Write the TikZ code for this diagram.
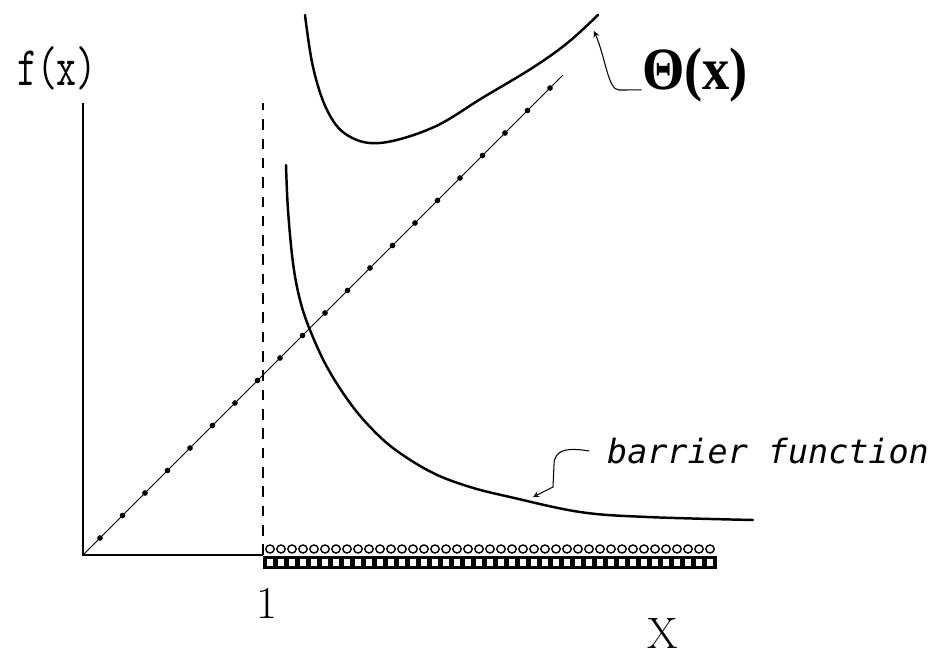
\documentclass[tikz,border=0pt]{standalone}
\usepackage{graphicx}
\usepackage{fontspec}
\newfontfamily\notefont{DejaVu Sans Mono}
\newfontfamily\thetafont{Liberation Serif}

\begin{document}
\begin{tikzpicture}[>=stealth,
    axis/.style={line width=1.1pt},
    curve/.style={line width=1.4pt, line cap=round},
    diag/.style={line width=0.5pt},
    dotmark/.style={fill, circle, inner sep=0pt, minimum size=3.2pt},
    lbl/.style={inner sep=0pt}]
    \useasboundingbox (-1.66,-2.06) rectangle (16.98,11.10);

    % axes and the line x = 1
    \coordinate (origin) at (0,0);
    \coordinate (ytop) at (0,9.04);
    \coordinate (xone) at (3.6,0);
    \coordinate (dashtop) at (3.6,9.04);
    \draw[axis] (ytop) -- (origin) -- (xone);
    \draw[axis, dash pattern=on 6pt off 5pt] (xone) -- (dashtop);

    % shaded band x > 1
    \fill (3.6,-0.28) rectangle (12.68,-0.02);
    \foreach \i in {0,...,40} {
        \fill[white] (3.68+0.22*\i,-0.22) rectangle (3.80+0.22*\i,-0.08);
        \draw[line width=0.8pt] (3.74+0.22*\i,0.12) ellipse (0.085 and 0.08);
    }

    % diagonal line with marks
    \coordinate (diagend) at (9.6,9.6);
    \draw[diag] (origin) -- (diagend);
    \foreach \k in {0,...,20}
        \node[dotmark] at (0.34+0.45*\k,0.34+0.45*\k) {};

    % upper curve Theta(x)
    \draw[curve] plot[smooth, tension=0.6] coordinates {
        (4.44,10.8) (4.60,9.76) (4.88,8.90) (5.28,8.40) (5.94,8.24)
        (7.0,8.55) (8.0,9.15) (9.0,9.75) (9.7,10.25) (10.3,10.8)};

    % barrier function
    \draw[curve] plot[smooth, tension=0.6] coordinates {
        (4.06,7.80) (4.10,6.90) (4.20,5.84) (4.34,5.10) (4.54,4.50)
        (4.88,3.76) (5.34,3.04) (5.80,2.50) (6.28,2.08) (7.00,1.64)
        (7.74,1.36) (8.54,1.16) (9.94,0.86) (11.28,0.76) (13.40,0.70)};

    % labels
    \node[lbl, font=\ttfamily\fontsize{22}{22}\selectfont] (fx) at (-0.52,9.74) {\scalebox{1}[1.45]{f(x)}};
    \node[lbl, font=\thetafont\bfseries\fontsize{31}{31}\selectfont] (theta) at (12.24,9.6) {\scalebox{1}[1.1]{Θ(x)}};
    \node[lbl, font=\fontsize{26}{26}\selectfont] (one) at (3.68,-0.96) {1};
    \node[lbl, font=\fontsize{25}{25}\selectfont] (xlab) at (11.6,-1.56) {X};
    \node[lbl, font=\notefont\itshape\fontsize{19}{19}\selectfont] (barrier) at (13.70,2.08) {barrier function};

    % pointers
    \coordinate (thetatip) at (10.22,10.48);
    \draw[->, semithick] ([yshift=-8.5pt]theta.west) -- (10.72,9.3)
        .. controls (10.5,9.3) and (10.45,9.95) .. (thetatip);
    \coordinate (barriertip) at (9.0,1.16);
    \draw[->, semithick] ([xshift=-10pt]barrier.west) .. controls (9.7,2.15) and (9.42,2.12) .. (9.42,1.8)
        -- (9.40,1.36) -- (barriertip);
\end{tikzpicture}
\end{document}
